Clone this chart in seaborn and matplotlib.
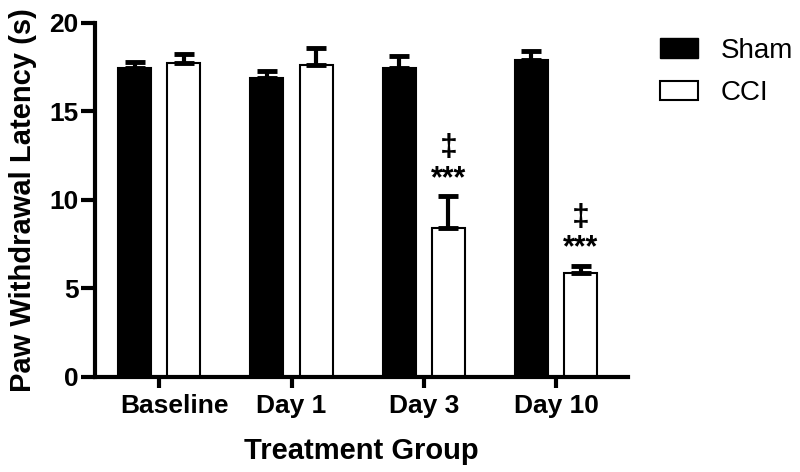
import matplotlib
matplotlib.use("Agg")
import matplotlib.pyplot as plt
import matplotlib.transforms as mtransforms
import pandas as pd
import seaborn as sns
from matplotlib.patches import Patch

# Data
groups = ["Baseline", "Day 1", "Day 3", "Day 10"]
sham_mean = [17.45, 16.9, 17.45, 17.9]
sham_sem = [0.35, 0.4, 0.7, 0.5]
cci_mean = [17.75, 17.65, 8.4, 5.9]
cci_sem = [0.5, 0.95, 1.8, 0.35]
stars = ["", "", "***", "***"]
dagger = ["", "", "\u2021", "\u2021"]

df = pd.DataFrame({
    "group": groups * 2,
    "condition": ["Sham"] * 4 + ["CCI"] * 4,
    "latency": sham_mean + cci_mean,
})

sns.set_style("ticks")
plt.rcParams["font.family"] = ["Liberation Sans", "DejaVu Sans"]
plt.rcParams["text.color"] = "black"
plt.rcParams["axes.labelcolor"] = "black"
plt.rcParams["xtick.color"] = "black"
plt.rcParams["ytick.color"] = "black"
plt.rcParams["axes.edgecolor"] = "black"

fig = plt.figure(figsize=(8, 4.72), dpi=100)
ax = fig.add_axes([0.119, 0.2013, 0.666, 0.75])

sns.barplot(
    data=df, x="group", y="latency", hue="condition",
    hue_order=["Sham", "CCI"], palette={"Sham": "black", "CCI": "white"},
    width=0.744, gap=0.33, errorbar=None, edgecolor="black", linewidth=1.5,
    legend=False, ax=ax,
)

# upward-only error bars at the bar centres seaborn placed
bars = sorted(ax.patches, key=lambda p: p.get_x())
means = [v for pair in zip(sham_mean, cci_mean) for v in pair]
sems = [v for pair in zip(sham_sem, cci_sem) for v in pair]
for bar, m, e in zip(bars, means, sems):
    xc = bar.get_x() + bar.get_width() / 2
    ax.errorbar(xc, m, yerr=[[0], [e]], fmt="none", ecolor="black",
                elinewidth=3, capsize=7, capthick=3.5, zorder=3)

# significance marks above CCI bars
for i in range(len(groups)):
    if not stars[i]:
        continue
    bar = bars[2 * i + 1]
    xc = bar.get_x() + bar.get_width() / 2
    top = cci_mean[i] + cci_sem[i]
    ax.text(xc, top + 0.15, stars[i], ha="center", va="bottom", fontsize=22,
            fontweight="bold")
    ax.text(xc, top + 1.9, dagger[i], ha="center", va="bottom", fontsize=23,
            fontweight="bold")

ax.set_xlim(-0.485, 3.545)
ax.set_ylim(0, 20)
ax.set_yticks([0, 5, 10, 15, 20])
sns.despine(ax=ax)
for s in ["left", "bottom"]:
    ax.spines[s].set_linewidth(3)
ax.tick_params(axis="y", length=10, width=3, labelsize=19, pad=2)
ax.tick_params(axis="x", length=8, width=3, labelsize=19, pad=4)
for lab in ax.get_xticklabels() + ax.get_yticklabels():
    lab.set_fontweight("bold")
# "Baseline" sits a little right of its tick in the original
first = ax.get_xticklabels()[0]
first.set_transform(first.get_transform()
                    + mtransforms.ScaledTranslation(0.15, 0, fig.dpi_scale_trans))

ax.set_xlabel("Treatment Group", fontsize=21, fontweight="bold", labelpad=14)
ax.set_ylabel("Paw Withdrawal Latency (s)", fontsize=21, fontweight="bold", labelpad=9)

handles = [Patch(facecolor="black", edgecolor="black", label="Sham"),
           Patch(facecolor="white", edgecolor="black", linewidth=1.5, label="CCI")]
fig.legend(handles=handles, loc="upper left", bbox_to_anchor=(0.825, 0.92),
           frameon=False, fontsize=20, handlelength=1.37, handleheight=0.7,
           handletextpad=0.8, labelspacing=0.6, borderpad=0, borderaxespad=0)

fig.savefig("out.png", dpi=100)
